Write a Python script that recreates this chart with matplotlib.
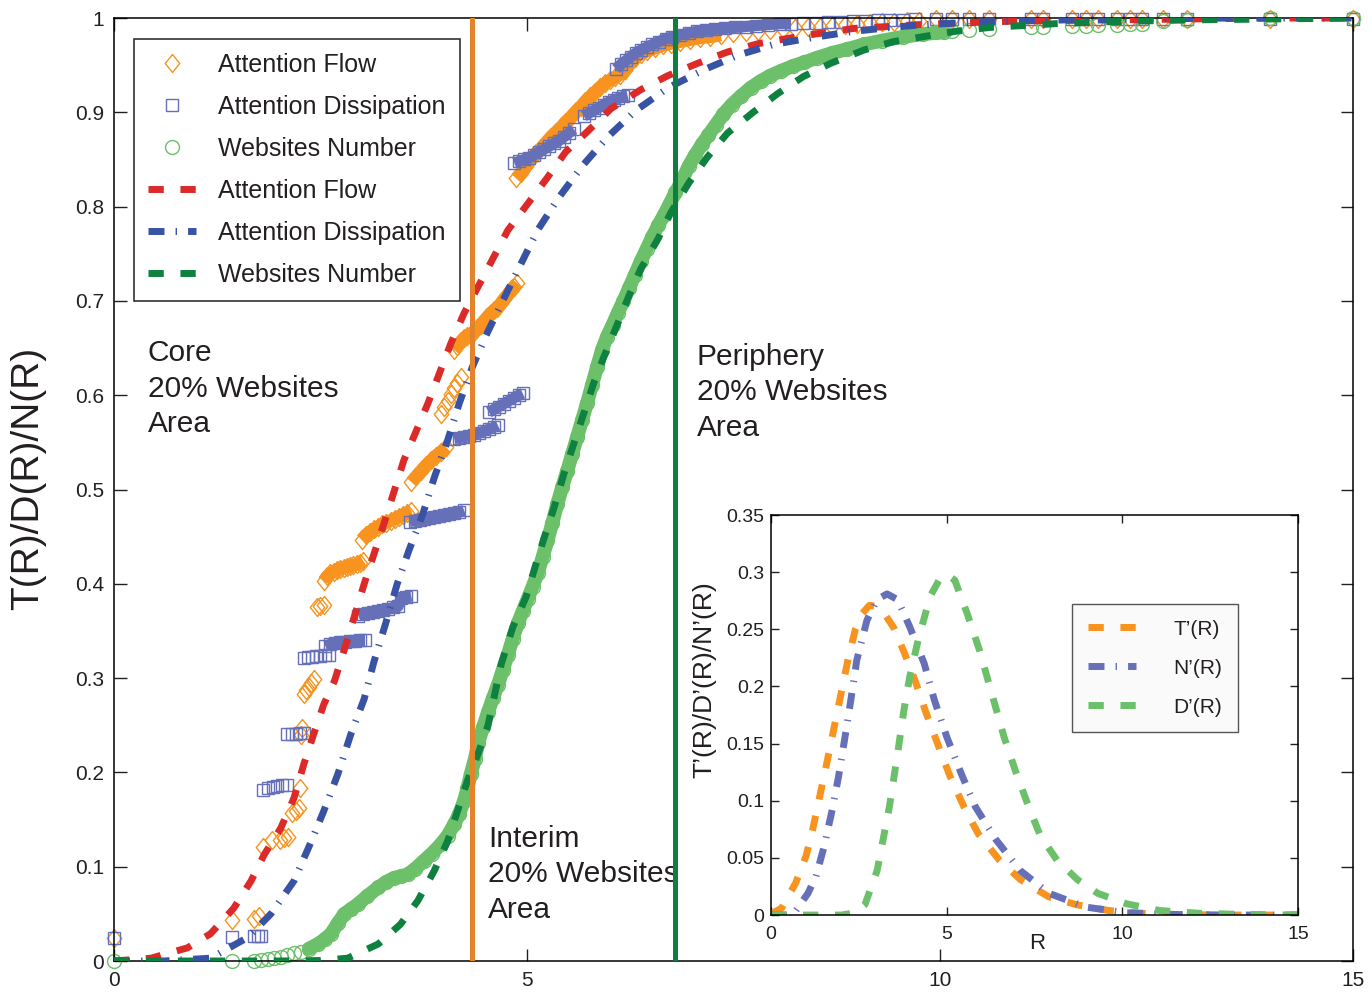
"""
Cumulative share of attention flow, attention dissipation and websites
number against the rank variable R, with fitted curves, the core / interim /
periphery cuts, and an inset with the fitted densities.
"""

import numpy as np
import matplotlib
matplotlib.use("Agg")
import matplotlib.pyplot as plt

plt.rcParams["font.family"] = ["Liberation Sans", "DejaVu Sans"]
plt.rcParams["text.color"] = "#231F20"
plt.rcParams["axes.linewidth"] = 1.1

INK = "#231F20"
ORANGE = "#F7931E"
PERIWINKLE = "#6670B8"
LIGHT_GREEN = "#6CC06A"
RED = "#DC2A28"
BLUE = "#3953A4"
DARK_GREEN = "#0E8040"
CUT_ORANGE = "#E3832B"
CUT_GREEN = "#0E7F3E"

DASHED = (2.2, 2.4)
DASHDOT = (2.3, 1.6, 0.2, 1.6)
DIAMOND = [(0, 1), (0.8, 0), (0, -1), (-0.8, 0), (0, 1)]

# ── empirical cumulative shares ───────────────────────────────────────────────
flow_r = [0.00, 1.43, 1.70, 1.76, 1.80, 1.91, 2.01, 2.06, 2.11, 2.16, 2.20, 2.24,
          2.25, 2.27, 2.28, 2.30, 2.33, 2.36, 2.39, 2.42, 2.46, 2.50, 2.54,
          2.54, 2.58, 2.62, 2.66, 2.70, 2.74, 2.78, 2.82, 2.86, 2.90, 2.94, 2.98, 3.02,
          3.00, 3.05, 3.10, 3.15, 3.20, 3.25, 3.30, 3.35, 3.40, 3.45, 3.50, 3.55, 3.60,
          3.60, 3.66, 3.72, 3.78, 3.84, 3.90, 3.96, 4.02,
          3.96, 4.00, 4.04, 4.08, 4.12, 4.16, 4.20,
          4.12, 4.16, 4.20, 4.24, 4.28, 4.32, 4.36, 4.40, 4.44, 4.48, 4.52, 4.56,
          4.60, 4.64, 4.68, 4.72, 4.76, 4.80, 4.84, 4.88,
          4.87, 4.93, 4.99, 5.05, 5.11, 5.17, 5.23, 5.29, 5.35, 5.41, 5.47, 5.53,
          5.59, 5.65, 5.71, 5.77, 5.83, 5.89, 5.95, 6.01, 6.07, 6.13, 6.19, 6.25,
          6.31, 6.38, 6.46, 6.55, 6.65, 6.75, 6.86, 6.98, 7.10, 7.22, 7.35, 7.50,
          7.65, 7.80, 7.95, 8.10, 8.25, 8.40, 8.55, 8.70, 8.85, 9.00, 9.15, 9.30,
          9.45, 9.60, 9.75]
flow_t = [0.024, 0.043, 0.045, 0.048, 0.121, 0.128, 0.128, 0.130, 0.131, 0.157, 0.159, 0.162,
          0.184, 0.240, 0.247, 0.283, 0.287, 0.291, 0.295, 0.299, 0.375, 0.377, 0.378,
          0.403, 0.408, 0.411, 0.413, 0.415, 0.416, 0.417, 0.418, 0.419, 0.420, 0.421, 0.422, 0.424,
          0.447, 0.452, 0.455, 0.458, 0.460, 0.463, 0.465, 0.467, 0.469, 0.471, 0.473, 0.475, 0.477,
          0.508, 0.514, 0.520, 0.526, 0.531, 0.536, 0.540, 0.545,
          0.580, 0.587, 0.594, 0.601, 0.608, 0.613, 0.619,
          0.648, 0.652, 0.657, 0.661, 0.663, 0.665, 0.667, 0.671, 0.675, 0.679, 0.683, 0.687,
          0.690, 0.693, 0.697, 0.702, 0.706, 0.711, 0.715, 0.719,
          0.830, 0.836, 0.843, 0.850, 0.857, 0.862, 0.868, 0.874, 0.879, 0.884, 0.890, 0.895,
          0.901, 0.906, 0.912, 0.917, 0.922, 0.927, 0.931, 0.934, 0.937, 0.940, 0.945, 0.952,
          0.958, 0.962, 0.965, 0.968, 0.971, 0.973, 0.975, 0.977, 0.979, 0.980, 0.982, 0.984,
          0.985, 0.986, 0.987, 0.988, 0.989, 0.990, 0.991, 0.992, 0.993, 0.994, 0.995, 0.996,
          0.996, 0.997, 0.997]

dis_r = [0.00, 1.43, 1.70, 1.74, 1.78,
         1.80, 1.86, 1.92, 1.98, 2.04, 2.09,
         2.10, 2.15, 2.20, 2.25, 2.30,
         2.30, 2.35, 2.40, 2.45, 2.50, 2.55, 2.60,
         2.56, 2.62, 2.68, 2.74, 2.80, 2.86, 2.92, 2.98, 3.04,
         2.96, 3.02, 3.08, 3.14, 3.20, 3.26, 3.32, 3.38, 3.44,
         3.48, 3.54, 3.60,
         3.58, 3.64, 3.70, 3.76, 3.82, 3.88, 3.94, 4.00, 4.06, 4.12, 4.18, 4.24,
         4.12, 4.18, 4.24, 4.30, 4.36, 4.42, 4.48, 4.54, 4.60, 4.65,
         4.54, 4.60, 4.66, 4.72, 4.78, 4.84, 4.90, 4.95,
         4.85, 4.91, 4.97, 5.03, 5.09, 5.15, 5.21, 5.27, 5.33, 5.39, 5.45, 5.51, 5.57,
         5.69, 5.75, 5.81, 5.87, 5.93, 5.99, 6.05, 6.11, 6.17, 6.22,
         6.08, 6.14, 6.20, 6.26, 6.32, 6.38, 6.45, 6.52, 6.60, 6.68, 6.76, 6.86,
         6.96, 7.06, 7.17, 7.28, 7.40, 7.52, 7.65, 7.78, 7.92, 8.06, 8.20, 8.35,
         8.50, 8.65, 8.80, 8.95, 9.10, 9.25, 9.40, 9.55, 9.70]
dis_d = [0.024, 0.025, 0.026, 0.026, 0.027,
         0.181, 0.184, 0.185, 0.186, 0.187, 0.187,
         0.241, 0.241, 0.241, 0.242, 0.242,
         0.321, 0.322, 0.322, 0.323, 0.323, 0.324, 0.324,
         0.334, 0.336, 0.337, 0.338, 0.338, 0.339, 0.339, 0.340, 0.340,
         0.366, 0.368, 0.369, 0.370, 0.371, 0.372, 0.373, 0.375, 0.376,
         0.385, 0.386, 0.387,
         0.466, 0.467, 0.468, 0.469, 0.470, 0.471, 0.472, 0.473, 0.474, 0.475, 0.476, 0.478,
         0.554, 0.555, 0.556, 0.557, 0.558, 0.560, 0.562, 0.564, 0.566, 0.568,
         0.582, 0.585, 0.588, 0.591, 0.594, 0.597, 0.600, 0.602,
         0.846, 0.848, 0.850, 0.852, 0.855, 0.858, 0.861, 0.864, 0.867, 0.870, 0.874, 0.878, 0.882,
         0.896, 0.899, 0.902, 0.905, 0.908, 0.911, 0.913, 0.915, 0.917, 0.918,
         0.946, 0.951, 0.955, 0.959, 0.963, 0.966, 0.969, 0.972, 0.975, 0.978, 0.980, 0.982,
         0.984, 0.986, 0.987, 0.988, 0.989, 0.990, 0.991, 0.992, 0.993, 0.994, 0.994, 0.995,
         0.995, 0.996, 0.996, 0.997, 0.997, 0.998, 0.998, 0.998, 0.999]

web_r = [0.00, 1.43,
         1.70, 1.78, 1.86, 1.94, 2.02, 2.10, 2.18, 2.26, 2.36, 2.47, 2.55, 2.63,
         2.71, 2.79, 2.87, 2.95, 3.07, 3.20, 3.30, 3.39, 3.48, 3.56, 3.65, 3.75,
         3.85, 3.96, 4.04, 4.12, 4.18, 4.24, 4.28, 4.32, 4.37, 4.41, 4.47, 4.53,
         4.59, 4.65, 4.71, 4.77, 4.83, 4.89, 4.95, 5.01, 5.07, 5.13, 5.19, 5.25,
         5.31, 5.37, 5.43, 5.49, 5.55, 5.61, 5.67, 5.73, 5.79, 5.85, 5.91, 5.97,
         6.04, 6.10, 6.17, 6.24, 6.31, 6.38, 6.45, 6.52, 6.59, 6.66, 6.73, 6.80,
         6.88, 6.96, 7.04, 7.12, 7.20, 7.29, 7.38, 7.48, 7.59, 7.71, 7.83, 7.95,
         8.08, 8.22, 8.36, 8.52, 8.70, 8.88, 9.08, 9.30, 9.55, 9.80, 10.05]
web_n = [0.000, 0.000,
         0.000, 0.001, 0.002, 0.003, 0.004, 0.006, 0.008, 0.010, 0.013, 0.018, 0.023, 0.029,
         0.040, 0.050, 0.055, 0.060, 0.069, 0.078, 0.084, 0.088, 0.090, 0.092, 0.098, 0.106,
         0.114, 0.124, 0.133, 0.145, 0.156, 0.170, 0.183, 0.198, 0.214, 0.231, 0.248, 0.264,
         0.279, 0.293, 0.309, 0.325, 0.342, 0.358, 0.371, 0.384, 0.397, 0.411, 0.428, 0.446,
         0.465, 0.485, 0.503, 0.520, 0.538, 0.556, 0.574, 0.592, 0.611, 0.630, 0.648, 0.662,
         0.675, 0.687, 0.700, 0.714, 0.728, 0.742, 0.755, 0.768, 0.780, 0.791, 0.803, 0.815,
         0.828, 0.843, 0.855, 0.866, 0.876, 0.887, 0.898, 0.908, 0.917, 0.926, 0.933, 0.939,
         0.944, 0.949, 0.953, 0.958, 0.963, 0.967, 0.972, 0.976, 0.980, 0.983, 0.985]

# sparse tail of the ranking, shared by the three series
tail_r = [9.95, 10.15, 10.35, 10.60, 11.10, 11.25, 11.60, 11.77, 11.92, 12.15,
          12.30, 12.45, 12.70, 13.00, 14.00, 15.00]
tail_flow = [0.999] * len(tail_r)
tail_dis = [0.999] * len(tail_r)
tail_web = [0.985, 0.986, 0.987, 0.988, 0.990, 0.990, 0.992, 0.992, 0.993, 0.993,
            0.994, 0.994, 0.997, 0.998, 1.000, 1.000]

# ── fitted cumulative curves ──────────────────────────────────────────────────
fit_flow_r = [0, 0.45, 0.89, 1.17, 1.45, 1.66, 1.82, 2.02, 2.18, 2.30, 2.42, 2.54,
              2.67, 2.81, 3.03, 3.27, 3.51, 3.80, 4.08, 4.24, 4.77, 5.01, 5.25,
              5.47, 5.75, 6.02, 6.38, 6.71, 7.07, 7.43, 7.81, 8.20, 8.56, 8.96,
              9.37, 9.74, 10.3, 11.0, 12.0, 13.0, 14.0, 15.0]
fit_flow_t = [0, 0.003, 0.014, 0.029, 0.056, 0.085, 0.113, 0.141, 0.173, 0.209, 0.241, 0.272,
              0.297, 0.336, 0.400, 0.464, 0.531, 0.591, 0.655, 0.687, 0.775, 0.803, 0.831,
              0.858, 0.881, 0.904, 0.924, 0.939, 0.952, 0.964, 0.973, 0.979, 0.984, 0.989,
              0.991, 0.993, 0.995, 0.997, 0.998, 0.999, 1.0, 1.0]

fit_dis_r = [0, 0.6, 1.17, 1.62, 1.90, 2.18, 2.39, 2.54, 2.71, 2.87, 3.03, 3.15,
             3.29, 3.43, 3.57, 3.74, 3.88, 4.04, 4.18, 4.34, 4.52, 4.69, 5.13,
             5.39, 5.68, 5.98, 6.32, 6.71, 7.14, 7.57, 7.99, 8.44, 8.96, 9.41,
             9.80, 10.5, 11.5, 12.5, 13.5, 15.0]
fit_dis_d = [0, 0.0, 0.003, 0.025, 0.050, 0.085, 0.127, 0.159, 0.198, 0.241, 0.278, 0.318,
             0.358, 0.400, 0.435, 0.474, 0.513, 0.552, 0.591, 0.630, 0.666, 0.697, 0.775,
             0.810, 0.844, 0.874, 0.902, 0.926, 0.945, 0.961, 0.972, 0.979, 0.986, 0.990,
             0.993, 0.996, 0.998, 0.999, 1.0, 1.0]

fit_web_r = [0, 1.0, 2.0, 2.5, 2.83, 3.20, 3.47, 3.68, 3.88, 4.04, 4.16, 4.28, 4.41,
             4.53, 4.69, 4.83, 4.99, 5.11, 5.21, 5.33, 5.45, 5.57, 5.69, 5.81, 5.93,
             6.10, 6.23, 6.38, 6.59, 6.74, 6.96, 7.19, 7.43, 7.74, 8.04, 8.35, 8.68,
             9.08, 9.44, 9.85, 10.2, 10.6, 11.0, 11.4, 12.0, 13.0, 14.0, 15.0]
fit_web_n = [0, 0, 0, 0.0005, 0.003, 0.018, 0.039, 0.064, 0.096, 0.127, 0.159, 0.191, 0.220,
             0.250, 0.315, 0.354, 0.386, 0.421, 0.449, 0.481, 0.517, 0.549, 0.581, 0.613, 0.640,
             0.676, 0.704, 0.734, 0.766, 0.793, 0.825, 0.853, 0.878, 0.900, 0.920, 0.938, 0.952,
             0.966, 0.975, 0.981, 0.986, 0.990, 0.992, 0.994, 0.996, 0.998, 0.999, 1.0]

# core / periphery boundaries (20% of websites each)
core_cut = 4.34
periphery_cut = 6.79

# ── fitted densities (inset) ──────────────────────────────────────────────────
dens_t_r = [0, 0.3, 0.7, 1.0, 1.2, 1.4, 1.6, 1.8, 2.0, 2.2, 2.4, 2.6, 2.8, 3.0, 3.2,
            3.5, 3.8, 4.1, 4.4, 4.8, 5.1, 5.5, 5.9, 6.5, 7.1, 7.9, 8.7, 9.6, 10.5,
            11.5, 13.0, 15.0]
dens_t = [0.001, 0.006, 0.028, 0.052, 0.077, 0.106, 0.135, 0.165, 0.195, 0.225, 0.250,
          0.264, 0.271, 0.270, 0.265, 0.251, 0.229, 0.205, 0.178, 0.145, 0.121, 0.094,
          0.071, 0.048, 0.031, 0.016, 0.009, 0.004, 0.0015, 0.0005, 0.0, 0.0]

dens_n_r = [0, 0.4, 0.64, 1.05, 1.28, 1.51, 1.74, 1.92, 2.09, 2.27, 2.44, 2.73, 3.02,
            3.30, 3.60, 3.95, 4.36, 4.65, 5.00, 5.41, 5.81, 6.40, 7.09, 7.91, 8.95,
            10.1, 11.5, 13.0, 15.0]
dens_n = [0.0, 0.0, 0.001, 0.019, 0.034, 0.060, 0.092, 0.121, 0.153, 0.188, 0.223, 0.258,
          0.276, 0.281, 0.276, 0.252, 0.220, 0.188, 0.156, 0.124, 0.095, 0.066, 0.039,
          0.019, 0.007, 0.002, 0.0005, 0.0, 0.0]

dens_d_r = [0, 1.0, 2.0, 2.4, 2.67, 3.02, 3.37, 3.60, 3.78, 3.95, 4.19, 4.53, 4.80,
            5.00, 5.23, 5.58, 5.93, 6.28, 6.63, 6.98, 7.33, 7.67, 8.14, 8.72, 9.30,
            10.1, 11.05, 12.2, 13.5, 15.0]
dens_d = [0, 0, 0.0, 0.002, 0.009, 0.039, 0.095, 0.141, 0.179, 0.209, 0.241, 0.279, 0.294,
          0.298, 0.293, 0.264, 0.232, 0.194, 0.156, 0.124, 0.095, 0.069, 0.048, 0.031,
          0.019, 0.010, 0.004, 0.0015, 0.0005, 0.0]

y_ticks = [0, 0.1, 0.2, 0.3, 0.4, 0.5, 0.6, 0.7, 0.8, 0.9, 1.0]
y_tick_labels = ["0", "0.1", "0.2", "0.3", "0.4", "0.5", "0.6", "0.7", "0.8", "0.9", "1"]
inset_ticks = [0, 0.05, 0.1, 0.15, 0.2, 0.25, 0.3, 0.35]
inset_tick_labels = ["0", "0.05", "0.1", "0.15", "0.2", "0.25", "0.3", "0.35"]


def dense_runs(r, v, max_dr=0.15, max_dv=0.012, min_len=8):
    """Split a point series into runs of closely packed points."""
    r = np.asarray(r)
    v = np.asarray(v)
    dr = np.diff(r)
    cut = np.where((dr < 0) | (dr > max_dr) | (np.abs(np.diff(v)) > max_dv))[0] + 1
    return [(a, b) for a, b in zip(np.split(r, cut), np.split(v, cut)) if len(a) >= min_len]


def draw_main(fig):
    ax = fig.add_axes([0.0831, 0.0361, 0.9027, 0.9458])

    # overlapping markers in packed runs read as a solid band
    for a, b in dense_runs(flow_r, flow_t):
        ax.plot(a, b, color=ORANGE, lw=9, solid_capstyle="butt", zorder=1.9)
    for a, b in dense_runs(dis_r, dis_d):
        ax.plot(a, b, color=PERIWINKLE, lw=8, solid_capstyle="butt", zorder=2.05)

    marker_kw = dict(ls="none", mfc="none", mew=1.0, clip_on=False)
    h_flow, = ax.plot(flow_r + tail_r, flow_t + tail_flow, marker=DIAMOND, ms=13,
                      mec=ORANGE, label="Attention Flow", zorder=2.0, **marker_kw)
    h_dis, = ax.plot(dis_r + tail_r, dis_d + tail_dis, marker="s", ms=8.5,
                     mec=PERIWINKLE, label="Attention Dissipation", zorder=2.1, **marker_kw)

    r = np.array(web_r)
    n = np.array(web_n)
    band = r >= 2.36
    ax.plot(r[band], n[band], color=LIGHT_GREEN, lw=10, solid_capstyle="round",
            zorder=2.2)
    h_web, = ax.plot(web_r + tail_r, web_n + tail_web, marker="o", ms=10,
                     mec=LIGHT_GREEN, label="Websites Number", zorder=2.3, **marker_kw)

    h_fit_flow, = ax.plot(fit_flow_r, fit_flow_t, color=RED, lw=5, dashes=DASHED,
                          label="Attention Flow", zorder=3)
    h_fit_dis, = ax.plot(fit_dis_r, fit_dis_d, color=BLUE, lw=5, dashes=DASHDOT,
                         label="Attention Dissipation", zorder=3)
    h_fit_web, = ax.plot(fit_web_r, fit_web_n, color=DARK_GREEN, lw=5, dashes=DASHED,
                         label="Websites Number", zorder=3)

    ax.axvline(core_cut, color=CUT_ORANGE, lw=3.6, zorder=4)
    ax.axvline(periphery_cut, color=CUT_GREEN, lw=3.6, zorder=4)

    ax.set_xlim(0, 15)
    ax.set_ylim(0, 1)
    ax.set_xticks([0, 5, 10, 15])
    ax.set_xticklabels(["0", "5", "10", "15"])
    ax.set_yticks(y_ticks)
    ax.set_yticklabels(y_tick_labels)
    ax.tick_params(direction="in", length=9, width=1, top=True, right=True,
                   labelsize=15, pad=7, colors=INK)

    text_kw = dict(fontsize=21.5, ha="left", va="center", linespacing=1.33, color=INK)
    ax.text(0.41, 0.607, "Core\n20% Websites\nArea", **text_kw)
    ax.text(7.06, 0.603, "Periphery\n20% Websites\nArea", **text_kw)
    ax.text(4.53, 0.092, "Interim\n20% Websites\nArea", **text_kw)

    leg = ax.legend(handles=[h_flow, h_dis, h_web, h_fit_flow, h_fit_dis, h_fit_web],
                    loc="upper left", bbox_to_anchor=(0.0162, 0.9777), borderaxespad=0,
                    fontsize=18, numpoints=1, handlelength=1.92, handletextpad=0.9,
                    borderpad=0.55, labelspacing=0.72, fancybox=False, framealpha=1)
    leg.get_frame().set_edgecolor(INK)
    leg.get_frame().set_linewidth(1.1)

    fig.text(28 / 1372, 1 - 478 / 997, "T(R)/D(R)/N(R)", rotation=90,
             ha="center", va="center", fontsize=28, color=INK)
    return ax


def draw_inset(fig):
    ax = fig.add_axes([0.5620, 0.0822, 0.3841, 0.4012])
    ax.set_facecolor("white")

    ax.plot(dens_t_r, dens_t, color=ORANGE, lw=5, dashes=DASHED, label="T’(R)")
    ax.plot(dens_n_r, dens_n, color=PERIWINKLE, lw=5, dashes=DASHDOT, label="N’(R)")
    ax.plot(dens_d_r, dens_d, color=LIGHT_GREEN, lw=5, dashes=DASHED, label="D’(R)")

    ax.set_xlim(0, 15)
    ax.set_ylim(0, 0.35)
    ax.set_xticks([0, 5, 10, 15])
    ax.set_xticklabels(["0", "5", "10", "15"])
    ax.set_yticks(inset_ticks)
    ax.set_yticklabels(inset_tick_labels)
    ax.tick_params(direction="in", length=6, width=1, top=True, right=True,
                   labelsize=14, pad=5, colors=INK)
    ax.tick_params(axis="x", pad=8)

    ax.set_xlabel("R", fontsize=16, color=INK)
    ax.xaxis.set_label_coords(0.505, -0.045)

    leg = ax.legend(loc="upper right", bbox_to_anchor=(0.886, 0.7775), borderaxespad=0,
                    fontsize=15, handlelength=2.3, handletextpad=1.8, borderpad=0.75,
                    labelspacing=0.96, fancybox=False, framealpha=1)
    leg.get_frame().set_facecolor("#FAFAFA")
    leg.get_frame().set_edgecolor("#555555")
    leg.get_frame().set_linewidth(1.0)

    fig.text(704 / 1372, 1 - 680 / 997, "T’(R)/D’(R)/N’(R)", rotation=90,
             ha="center", va="center", fontsize=19, color=INK)
    return ax


def run():
    fig = plt.figure(figsize=(13.72, 9.97), dpi=100)
    draw_main(fig)
    draw_inset(fig)
    fig.savefig("out.png", dpi=100)
    plt.close(fig)


if __name__ == "__main__":
    run()
